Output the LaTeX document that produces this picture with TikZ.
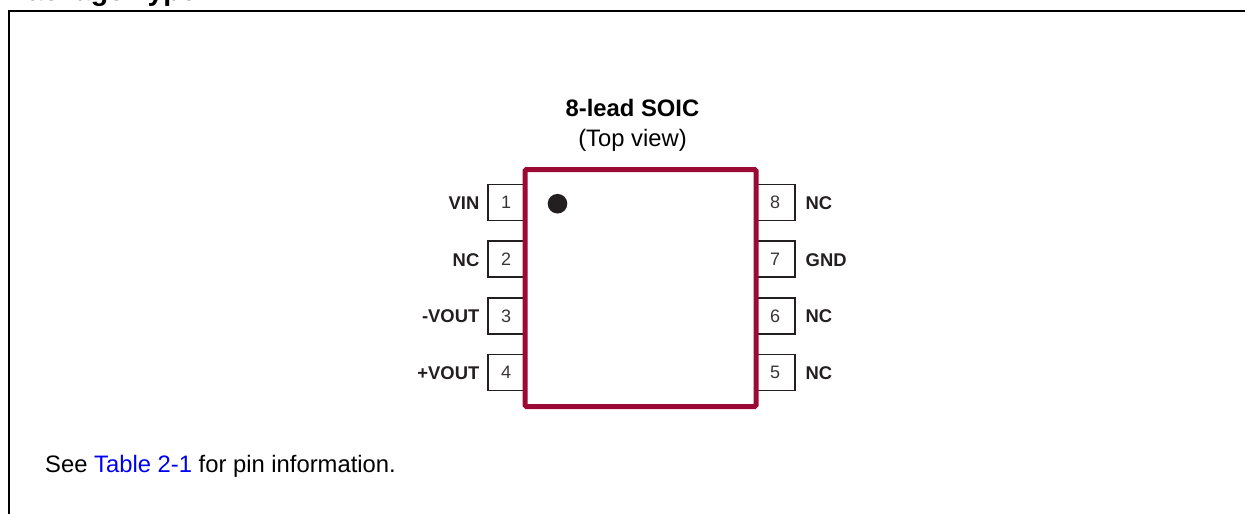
\documentclass[tikz,border=0pt]{standalone}
\usepackage{fontspec}
\setmainfont{Liberation Sans}
\definecolor{chipred}{HTML}{9B0A35}
\definecolor{ink}{HTML}{231F20}
\definecolor{linkblue}{HTML}{0000F0}
\tikzset{
  x=1pt,y=-1pt,
  pinbox/.style={draw=ink,line width=1.2pt,minimum width=36pt,minimum height=36pt,inner sep=0pt,anchor=center,font=\fontsize{18}{20}\selectfont,text=ink!90},
  pinboxr/.style={pinbox,minimum width=40pt},
  pinlabel/.style={inner sep=0pt,font=\fontsize{18.4}{20}\selectfont\bfseries,text=ink},
  chipbody/.style={draw=chipred,line width=5pt,rounded corners=1.5pt,minimum width=231pt,minimum height=237pt,inner sep=0pt},
  title/.style={inner sep=0pt,font=\fontsize{23.8}{26}\selectfont,text=black},
}
\begin{document}
\begin{tikzpicture}
\useasboundingbox (0,0) rectangle (1245,514);
\begin{scope}
\clip (0,0) rectangle (1245,514);
\node[title,anchor=base west,font=\fontsize{28.6}{30}\selectfont\bfseries] (heading) at (8,1) {Package Type};
\coordinate (frameA) at (9,520);
\coordinate (frameB) at (9,11);
\coordinate (frameC) at (1250,11);
\draw[black,line width=2.4pt] (frameA) -- (frameB) -- (frameC);
\end{scope}
\node[title,anchor=base,font=\fontsize{23.8}{26}\selectfont\bfseries] (name) at (632.5,116) {8-lead SOIC};
\node[title,anchor=base] (view) at (632.5,146) {(Top view)};
% pins
\node[pinbox] (p1) at (506,202.5) {1};
\node[pinbox] (p2) at (506,259) {2};
\node[pinbox] (p3) at (506,316) {3};
\node[pinbox] (p4) at (506,372.8) {4};
\node[pinboxr] (p8) at (775,202.5) {8};
\node[pinboxr] (p7) at (775,259) {7};
\node[pinboxr] (p6) at (775,316) {6};
\node[pinboxr] (p5) at (775,372.8) {5};
% chip over the pins
\node[chipbody,fill=white] (chip) at (640.5,288) {};
\fill[ink] (557.5,203.7) circle (9.8);
\node[pinlabel,anchor=base east] (l1) at (479.5,209.5) {VIN};
\node[pinlabel,anchor=base east] (l2) at (479.5,266) {NC};
\node[pinlabel,anchor=base east] (l3) at (479.5,322.5) {-VOUT};
\node[pinlabel,anchor=base east] (l4) at (479.5,379) {+VOUT};
\node[pinlabel,anchor=base west] (l8) at (805.5,209.5) {NC};
\node[pinlabel,anchor=base west] (l7) at (805.5,266) {GND};
\node[pinlabel,anchor=base west] (l6) at (805.5,322.5) {NC};
\node[pinlabel,anchor=base west] (l5) at (805.5,379) {NC};
\node[title,anchor=base west] (note) at (45,472.5) {See \textcolor{linkblue}{Table 2-1} for pin information.};
\end{tikzpicture}
\end{document}
